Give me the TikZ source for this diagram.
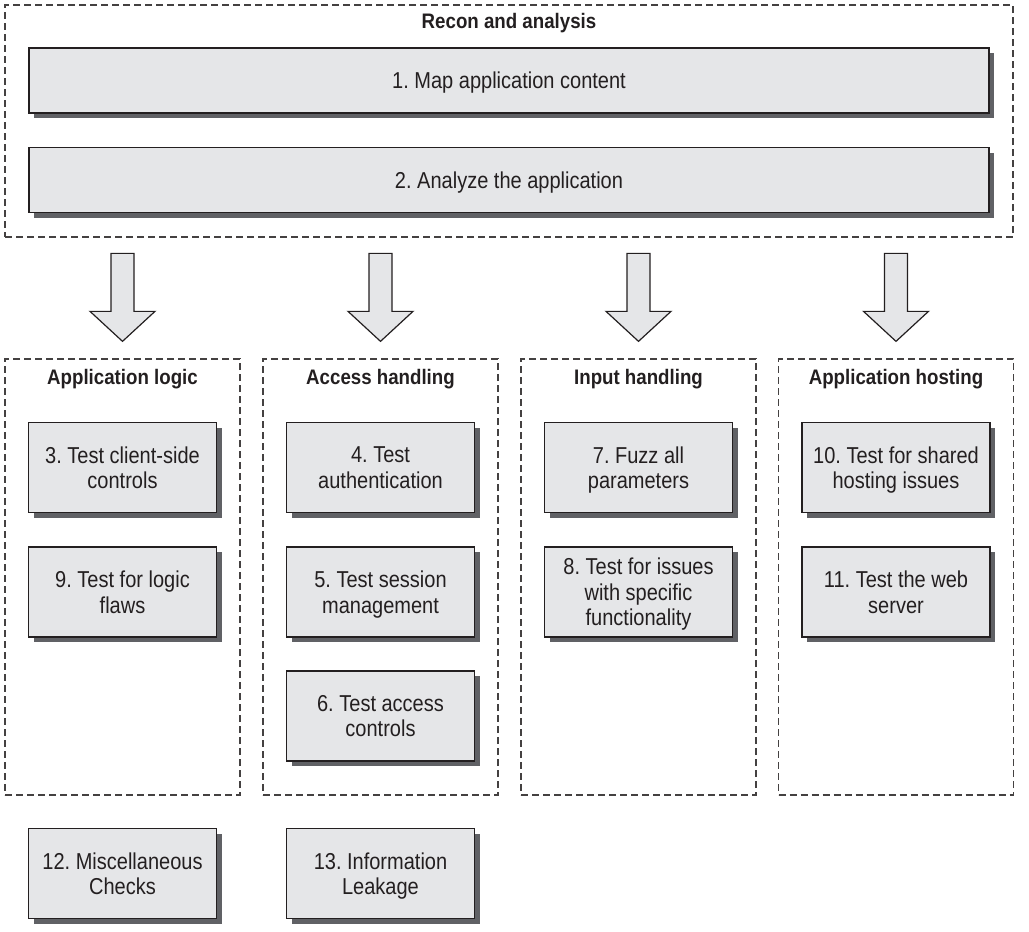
\documentclass[tikz,border=0pt]{standalone}
\usepackage{fontspec}
\setmainfont{Liberation Sans}[FakeStretch=0.87]
\newfontfamily\titlefont{Liberation Sans}[FakeStretch=0.89]
\usetikzlibrary{shadows}
\definecolor{boxfill}{HTML}{E5E6E8}
\definecolor{shade}{HTML}{606165}
\definecolor{ink}{HTML}{231F20}
\frenchspacing
\begin{document}
\frenchspacing
\begin{tikzpicture}[x=1pt,y=-1pt,
  stepbox/.style={draw=ink, line width=1.4pt, fill=boxfill, text=ink, align=center,
    font=\fontsize{23}{25.5}\selectfont, minimum width=188pt, minimum height=90pt, inner sep=0pt,
    text depth=0pt,
    drop shadow={shadow xshift=5pt, shadow yshift=-5pt, fill=shade, opacity=1}},
  widebox/.style={stepbox, minimum width=960pt, minimum height=65pt},
  frame/.style={draw=ink!85, dash pattern=on 7pt off 4pt, line width=1.3pt, inner sep=0pt},
  colframe/.style={frame, minimum width=235pt, minimum height=436pt},
  title/.style={font=\titlefont\bfseries\fontsize{21}{23}\selectfont, text=ink},
  blockarrow/.style={draw=ink, fill=boxfill, line width=1.2pt, line join=miter}]
\useasboundingbox (0,0) rectangle (1029,932);

% Recon frame
\node[frame, minimum width=1008pt, minimum height=232pt] (recon) at (509,121) {};
\node[title] (recontitle) at (509,23.5) {Recon and analysis};
\node[widebox] (b1) at (509,80.5) {1. Map application content};
\node[widebox] (b2) at (509,180) {2. Analyze the application};

% Column frames
\node[colframe] (colA) at (122.5,577) {};
\node[colframe] (colB) at (380.5,577) {};
\node[colframe] (colC) at (638.5,577) {};
\node[colframe] (colD) at (896,577) {};

\node[title] (tA) at (122.5,379.5) {Application logic};
\node[title] (tB) at (380.5,379.5) {Access handling};
\node[title] (tC) at (638.5,379.5) {Input handling};
\node[title] (tD) at (896,379.5) {Application hosting};

% Block arrows
\foreach \c in {colA,colB,colC,colD}{
  \draw[blockarrow] (\c.north) ++(0,-17) -- ++(-32.5,-30) -- ++(21,0) -- ++(0,-58)
     -- ++(23,0) -- ++(0,58) -- ++(21,0) -- cycle;
}

% Column boxes
\node[stepbox] (b3) at (122.5,467.5) {3. Test client-side\\controls};
\node[stepbox] (b9) at (122.5,592) {9. Test for logic\\flaws};
\node[stepbox] (b4) at (380.5,467.5) {4. Test\\authentication};
\node[stepbox] (b5) at (380.5,592) {5. Test session\\management};
\node[stepbox] (b6) at (380.5,716) {6. Test access\\controls};
\node[stepbox] (b7) at (638.5,467.5) {7. Fuzz all\\parameters};
\node[stepbox] (b8) at (638.5,592) {8. Test for issues\\with specific\\functionality};
\node[stepbox] (b10) at (896,467.5) {10. Test for shared\\hosting issues};
\node[stepbox] (b11) at (896,592) {11. Test the web\\server};

% Bottom boxes
\node[stepbox] (b12) at (122.5,873.5) {12. Miscellaneous\\Checks};
\node[stepbox] (b13) at (380.5,873.5) {13. Information\\Leakage};
\end{tikzpicture}
\end{document}
